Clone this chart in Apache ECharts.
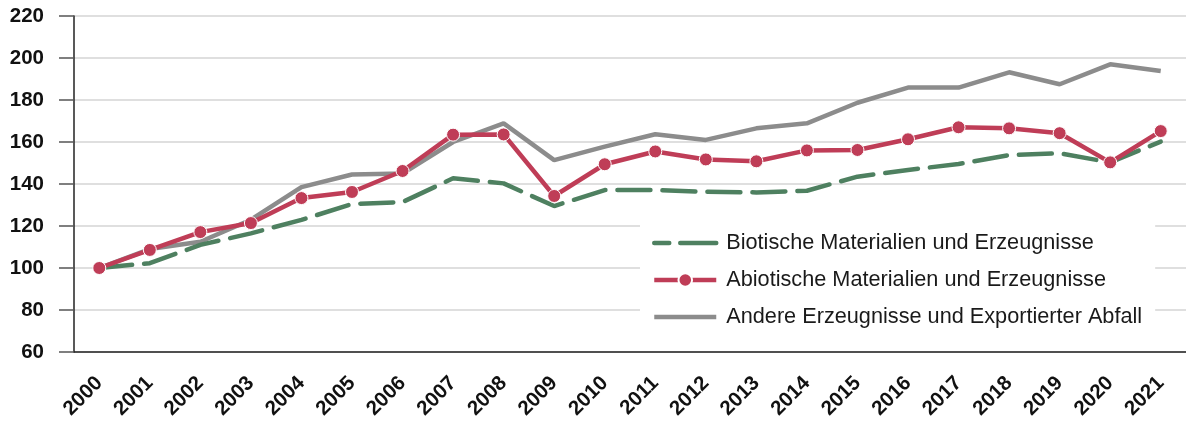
<!DOCTYPE html>
<html>
<head>
<meta charset="utf-8">
<script src="https://cdn.jsdelivr.net/npm/echarts@6/dist/echarts.min.js"></script>
<style>html,body{margin:0;padding:0;background:#fff}#c{width:1186px;height:423px}</style>
</head>
<body>
<div id="c"></div>
<script>
var years = ['2000','2001','2002','2003','2004','2005','2006','2007','2008','2009','2010','2011','2012','2013','2014','2015','2016','2017','2018','2019','2020','2021'];
var seriesNames = ['Biotische Materialien und Erzeugnisse','Abiotische Materialien und Erzeugnisse','Andere Erzeugnisse und Exportierter Abfall'];
var biotisch = [100,102.3,111,116.5,122.9,130.5,131.4,142.7,140.3,129.5,137.1,137.1,136.3,136,136.8,143.5,146.7,149.5,153.8,154.6,150.3,160.2];
var abiotisch = [100,108.6,117.1,121.4,133.3,136.2,146.2,163.5,163.6,134.3,149.4,155.5,151.7,150.8,156,156.2,161.3,167,166.5,164.2,150.3,165.2];
var andere = [100,109,112.5,123,138.5,144.5,145,160,168.9,151.4,157.8,163.7,161,166.5,168.9,178.7,185.9,185.9,193.2,187.5,197,193.8];
var yTicks = {min:60, max:220, interval:20};

var cGreen = '#4e8060', cRed = '#bf3d57', cGrey = '#8c8c8c';

var chart = echarts.init(document.getElementById('c'), null, {renderer:'canvas'});
chart.setOption({
  animation:false,
  backgroundColor:'#fff',
  grid:{left:74, right:0, top:16, bottom:71, containLabel:false},
  legend:{
    orient:'vertical', left:640, top:219,
    backgroundColor:'#fff',
    padding:[13,13,10,12],
    itemWidth:62, itemHeight:17, itemGap:15,
    textStyle:{fontFamily:'Liberation Sans', fontSize:21.7, color:'#1a1a1a', padding:[0,0,0,5]},
    data:[
      {name:seriesNames[0], itemStyle:{opacity:0}, lineStyle:{color:cGreen, width:4.5, type:[15,11,40,0], cap:'round'}},
      {name:seriesNames[1], lineStyle:{color:cRed, width:4.5}},
      {name:seriesNames[2], itemStyle:{opacity:0}, lineStyle:{color:cGrey, width:4.5}}
    ]
  },
  xAxis:{
    type:'category', data:years, boundaryGap:true,
    axisLine:{lineStyle:{color:'#222', width:1.5}},
    axisTick:{alignWithLabel:true, length:15, lineStyle:{color:'#333', width:1.5}},
    axisLabel:{rotate:45, margin:28, fontFamily:'Liberation Sans', fontWeight:'bold', fontSize:20.5, color:'#111', interval:0}
  },
  yAxis:{
    type:'value', min:yTicks.min, max:yTicks.max, interval:yTicks.interval,
    axisLine:{show:true, lineStyle:{color:'#222', width:1.5}},
    axisTick:{show:true, length:15, lineStyle:{color:'#555', width:1.5}},
    axisLabel:{margin:30, fontFamily:'Liberation Sans', fontWeight:'bold', fontSize:20.5, color:'#111'},
    splitLine:{lineStyle:{color:'#d4d4d4', width:1.5}}
  },
  series:[
    {name:seriesNames[2], type:'line', data:andere, z:2, symbol:'none', showSymbol:false,
     lineStyle:{color:cGrey, width:4.5}, itemStyle:{color:cGrey}},
    {name:seriesNames[1], type:'line', data:abiotisch, z:4, symbol:'circle', symbolSize:13, showSymbol:true,
     lineStyle:{color:cRed, width:4.5}, itemStyle:{color:cRed, borderColor:'#fff', borderWidth:1}},
    {name:seriesNames[0], type:'line', data:biotisch, z:3, symbol:'none', showSymbol:false,
     lineStyle:{color:cGreen, width:4.5, type:[33,12], cap:'round'}, itemStyle:{color:cGreen}}
  ]
});
</script>
</body>
</html>
